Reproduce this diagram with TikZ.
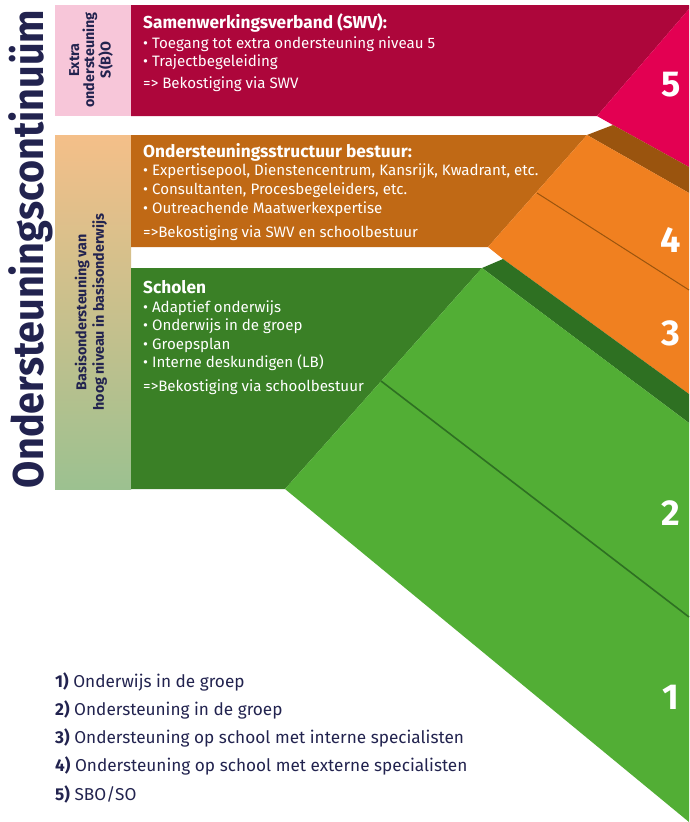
\documentclass[tikz,border=0pt]{standalone}
\usepackage{fontspec}
\setmainfont{Fira Sans}
\definecolor{navy}{HTML}{22234F}
\definecolor{swvred}{HTML}{AD063B}
\definecolor{swvpink}{HTML}{F7C6D9}
\definecolor{lvlfive}{HTML}{E30052}
\definecolor{bestuur}{HTML}{C06915}
\definecolor{lvlbrown}{HTML}{9A540E}
\definecolor{lvlorange}{HTML}{F08020}
\definecolor{scholen}{HTML}{3A8026}
\definecolor{lvldark}{HTML}{2E7022}
\definecolor{lvlgreen}{HTML}{52AE35}
\definecolor{gradtop}{HTML}{F4BF89}
\definecolor{gradbot}{HTML}{9CC190}
\begin{document}
\begin{tikzpicture}[x=1pt, y=-1pt,
  head/.style={anchor=base west, inner sep=0pt, text=white, font=\fontsize{17.3}{20}\selectfont\bfseries},
  body/.style={anchor=base west, inner sep=0pt, text=white, font=\fontsize{15.1}{18}\selectfont},
  level/.style={text=white, font=\fontsize{36}{40}\selectfont\bfseries},
  sidelabel/.style={rotate=90, align=center, text=navy, font=\fontsize{14.3}{15}\selectfont\bfseries},
  legend/.style={anchor=base west, inner sep=0pt, text=navy, font=\fontsize{17.2}{20}\selectfont}]
\useasboundingbox (0,0) rectangle (689,822);
% blokken links
\fill[swvpink](55,5) rectangle (131,116);
\shade[top color=gradtop, bottom color=gradbot](55,135) rectangle (131,489);
\fill[swvred](131,5)--(689,5)--(689,9)--(597,116)--(131,116)--cycle;
\fill[bestuur](131,135)--(587,135)--(488,247)--(131,247)--cycle;
\fill[scholen](131,268)--(482,268)--(285,489)--(131,489)--cycle;
% trap rechts
\fill[lvlfive](597,116)--(689,9)--(689,167)--(613,125)--cycle;
\fill[lvlbrown](587,135)--(613,125)--(689,167)--(689,193)--cycle;
\fill[lvlorange](587,135)--(689,193)--(689,394)--(503,259)--(488,247)--cycle;
\fill[lvldark](503,259)--(689,394)--(689,423)--(482,268)--cycle;
\fill[lvlgreen](482,268)--(689,423)--(689,822)--(285,489)--cycle;
\draw[lvlbrown, line width=1pt](537,193)--(689,290);
\draw[lvldark, line width=1.6pt](381,381)--(689,617);
% niveaus
\node[level] (n5) at (671,85) {5};
\node[level] (n4) at (671,240) {4};
\node[level] (n3) at (671,333) {3};
\node[level] (n2) at (671,513) {2};
\node[level] (n1) at (671,697) {1};
% titels
\node[rotate=90, anchor=base, inner sep=0pt, text=navy, font=\fontsize{43}{46}\selectfont\bfseries] (titel) at (43,249) {\resizebox{478pt}{\height}{Ondersteuningscontinuüm}};
\node[sidelabel] (extra) at (91,60) {Extra\\ondersteuning\\S(B)O};
\node[sidelabel, font=\fontsize{14.3}{17.5}\selectfont\bfseries] (basis) at (91,312) {Basisondersteuning van\\hoog niveau in basisonderwijs};
% SWV
\node[head] (swv) at (143,28) {Samenwerkingsverband (SWV):};
\foreach \yy/\t [count=\i] in {48/{• Toegang tot extra ondersteuning niveau 5}, 66/{• Trajectbegeleiding}, 88/{=> Bekostiging via SWV}}
  \node[body] (swv\i) at (143,\yy) {\t};
% bestuur
\node[head] (best) at (143,157) {Ondersteuningsstructuur bestuur:};
\foreach \yy/\t [count=\i] in {175/{• Expertisepool, Dienstencentrum, Kansrijk, Kwadrant, etc.}, 194/{• Consultanten, Procesbegeleiders, etc.}, 213/{• Outreachende Maatwerkexpertise}, 237/{=>Bekostiging via SWV en schoolbestuur}}
  \node[body] (best\i) at (143,\yy) {\t};
% scholen
\node[head] (school) at (143,293) {Scholen};
\foreach \yy/\t [count=\i] in {312/{• Adaptief onderwijs}, 330/{• Onderwijs in de groep}, 349/{• Groepsplan}, 367/{• Interne deskundigen (LB)}, 391/{=>Bekostiging via schoolbestuur}}
  \node[body] (school\i) at (143,\yy) {\t};
% legenda
\foreach \t [count=\i] in {{Onderwijs in de groep}, {Ondersteuning in de groep}, {Ondersteuning op school met interne specialisten}, {Ondersteuning op school met externe specialisten}, {SBO/SO}}
  \node[legend] (leg\i) at (55,{687+28.25*(\i-1)}) {\textbf{\i)} \t};
\end{tikzpicture}
\end{document}
